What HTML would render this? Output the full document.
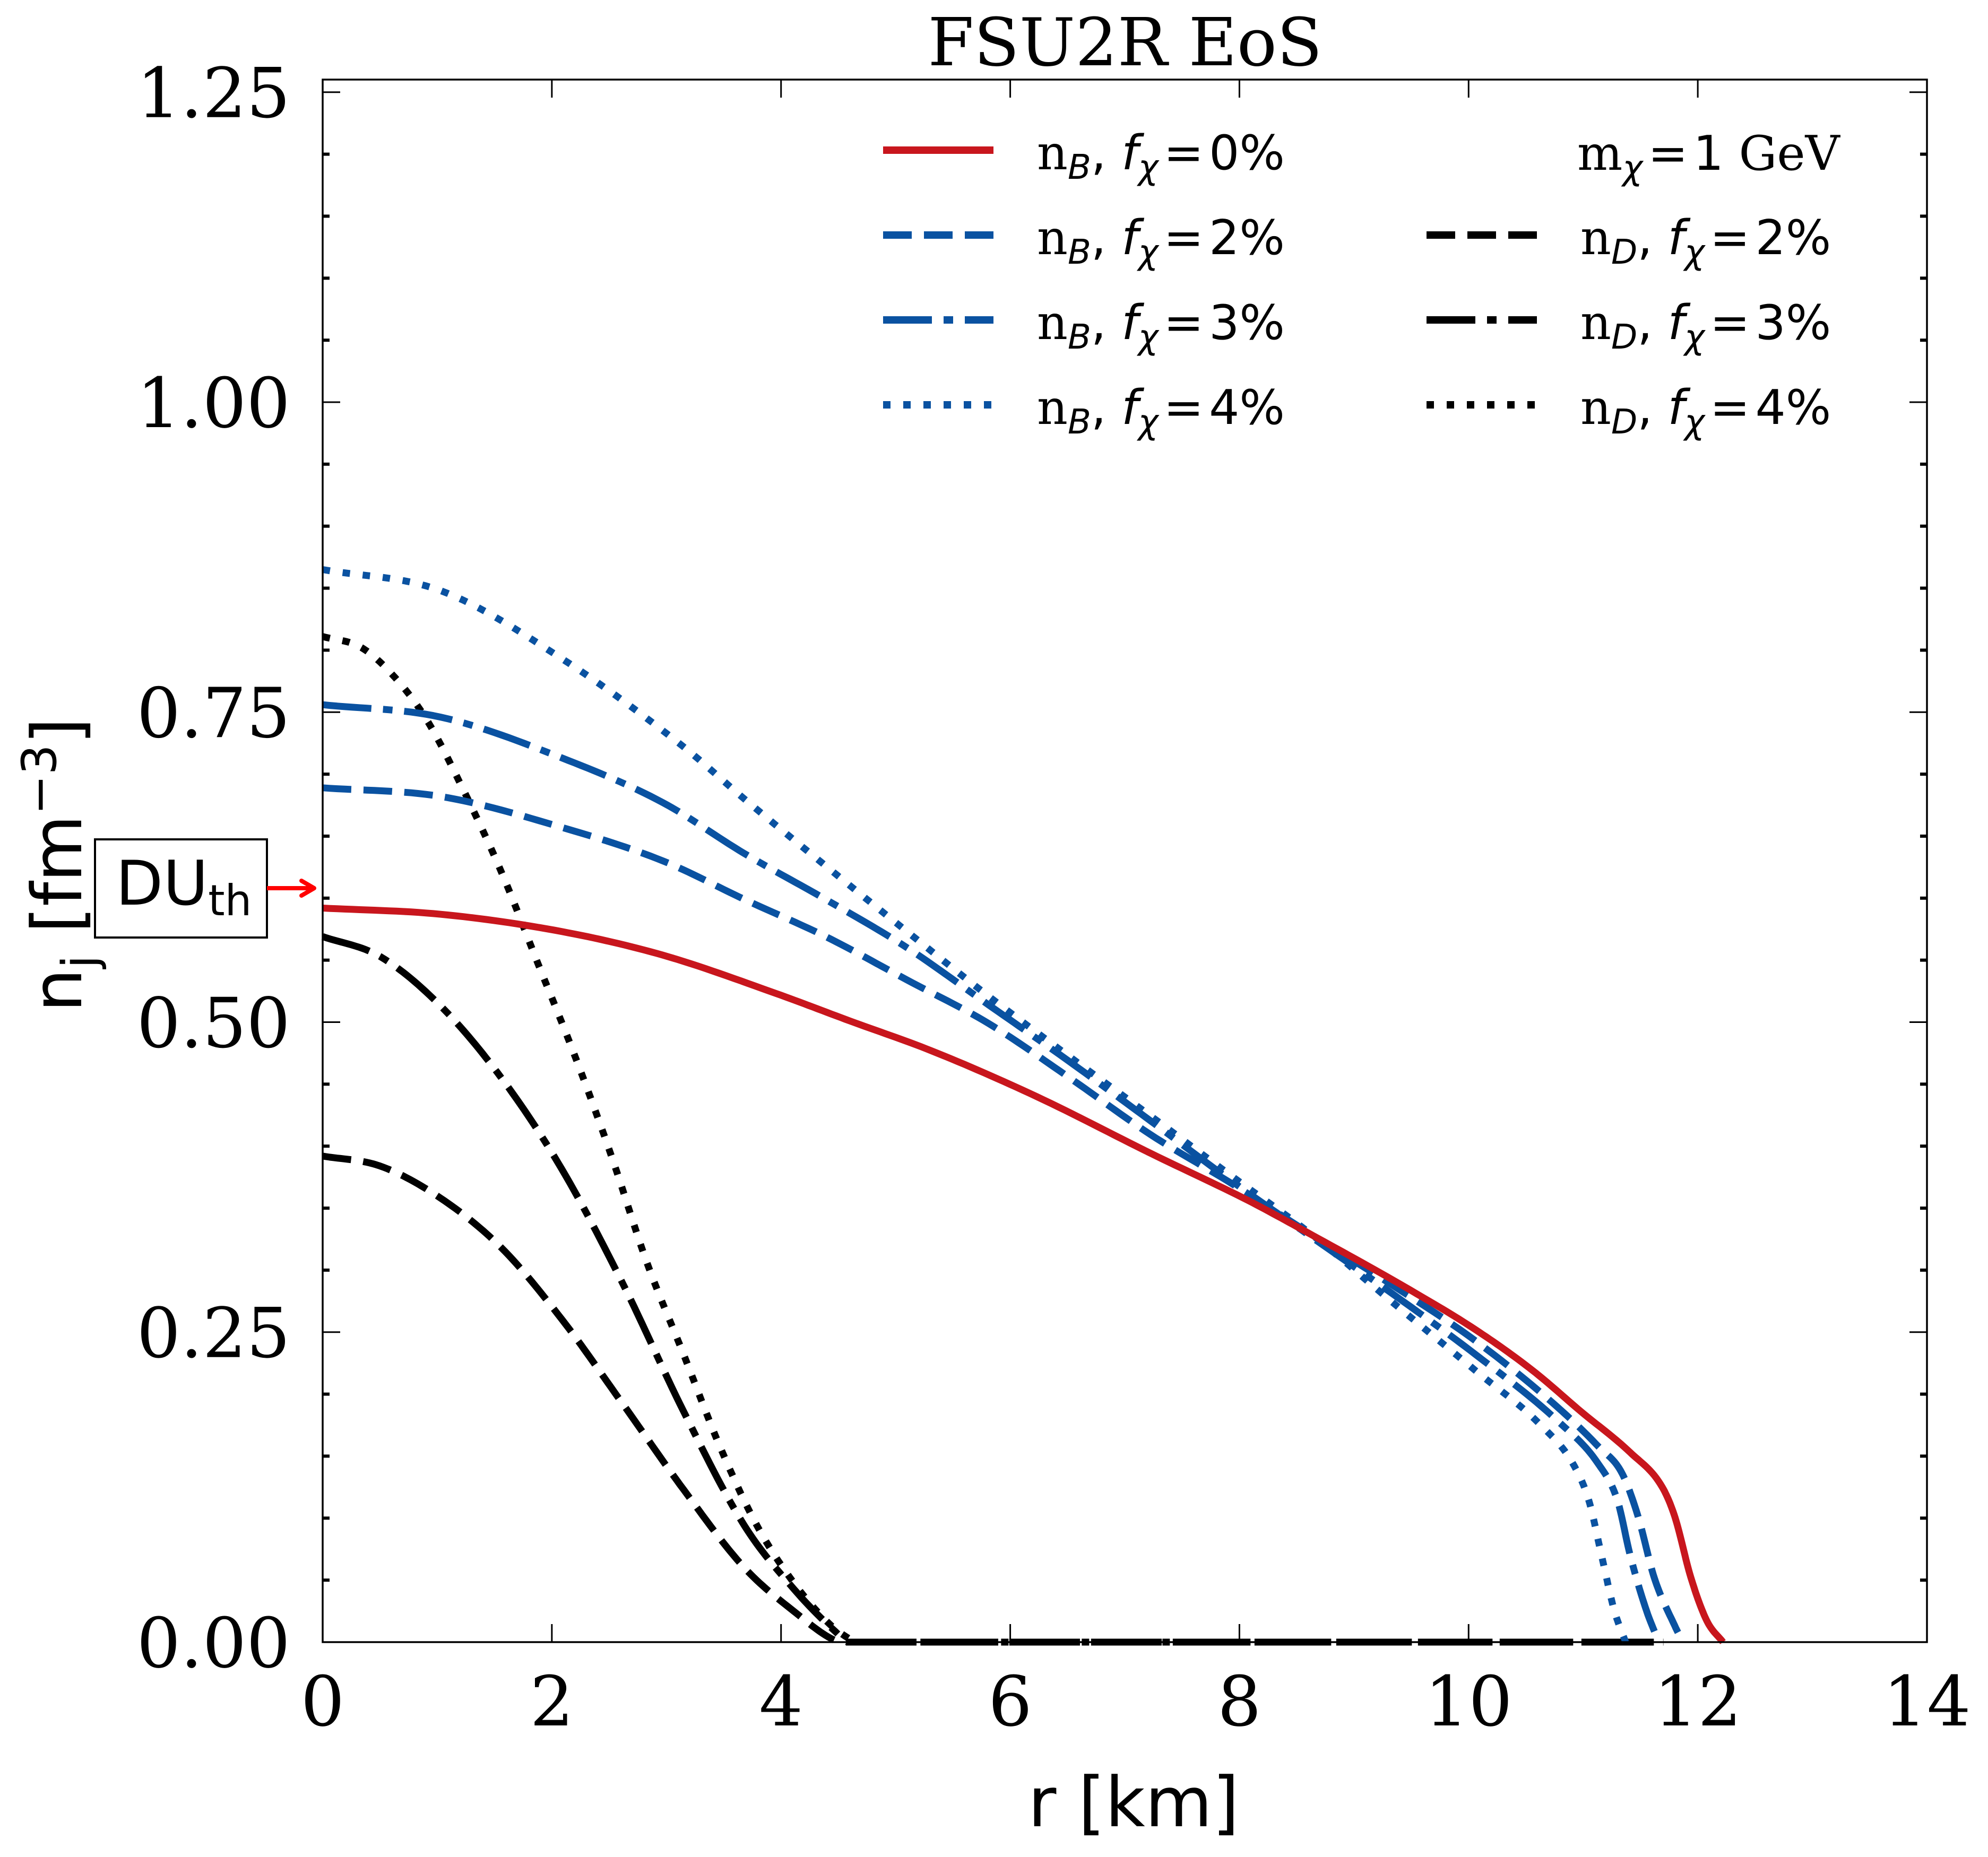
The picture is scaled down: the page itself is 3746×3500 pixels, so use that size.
<!DOCTYPE html>
<html><head><meta charset="utf-8"><style>
html,body{margin:0;padding:0;background:#fff;}
svg{display:block;}
</style></head><body>
<svg id="chart" width="3746" height="3500" viewBox="0 0 3746 3500" xmlns="http://www.w3.org/2000/svg">
<rect width="3746" height="3500" fill="#fff"/>
<text x="2120" y="123" text-anchor="middle" font-family="DejaVu Serif, Liberation Serif, serif" font-size="125">FSU2R EoS</text>
<g id="marks"></g>
<rect x="608" y="150" width="3023" height="2945" fill="none" stroke="#000" stroke-width="3.5"/>
<g id="ticks"></g>
<text x="2136" y="3442" text-anchor="middle" font-family="DejaVu Sans, Liberation Sans, sans-serif" font-size="130">r [km]</text>
<text transform="translate(153,1630) rotate(-90)" text-anchor="middle" font-family="DejaVu Sans, Liberation Sans, sans-serif" font-size="130">n<tspan font-size="90" dy="28">j</tspan><tspan dy="-28"> [fm</tspan><tspan font-size="90" dy="-48">−3</tspan><tspan dy="48">]</tspan></text>
<g>
<rect x="179" y="1582" width="324" height="185" fill="#fff" stroke="#000" stroke-width="4"/>
<text x="218" y="1705" font-family="DejaVu Sans, Liberation Sans, sans-serif" font-size="116">DU<tspan font-size="80" dy="20">th</tspan></text>
<line x1="503" y1="1674" x2="590" y2="1674" stroke="#f00" stroke-width="8"/>
<path d="M568,1660 L592,1674 L568,1688" fill="none" stroke="#f00" stroke-width="8" stroke-linecap="round" stroke-linejoin="round"/>
</g>
<g id="legend" font-family="DejaVu Sans, Liberation Sans, sans-serif" font-size="90"></g>
</svg>
<script>
const rB0 = [0,1.03,2.09,2.97,3.96,4.6,5.31,6.23,7.23,8.08,8.64,9.49,10.06,10.56,10.98,11.41,11.69,11.8,11.94,12.08,12.22];
const nB0 = [0.592,0.587,0.573,0.554,0.523,0.501,0.477,0.440,0.394,0.356,0.328,0.284,0.252,0.219,0.186,0.153,0.125,0.101,0.052,0.017,0];
const rB2 = [0,1.03,2.09,2.97,3.68,4.39,5.1,5.81,6.52,7.23,7.93,8.64,9.35,10.06,10.77,11.13,11.34,11.48,11.62,11.8,11.87];
const nB2 = [0.689,0.682,0.657,0.630,0.599,0.569,0.534,0.499,0.455,0.409,0.370,0.328,0.287,0.243,0.190,0.158,0.136,0.101,0.052,0.013,0];
const rB3 = [0,1.03,2.09,2.97,3.68,4.39,5.1,5.81,6.52,7.23,7.93,8.64,9.35,10.06,10.77,11.13,11.3,11.41,11.55,11.66];
const nB3 = [0.756,0.746,0.713,0.677,0.636,0.599,0.560,0.514,0.468,0.420,0.372,0.326,0.280,0.232,0.179,0.144,0.114,0.070,0.026,0];
const rB4 = [0,1.03,2.09,3.15,3.68,4.39,5.1,5.81,6.52,7.23,7.93,8.64,9.35,10.06,10.63,10.91,11.05,11.16,11.27,11.37];
const nB4 = [0.865,0.848,0.793,0.722,0.680,0.626,0.573,0.521,0.472,0.424,0.376,0.328,0.273,0.219,0.175,0.144,0.114,0.070,0.026,0];
const rD2 = [0,0.5,1.03,1.56,2.09,2.62,3.15,3.68,4.11,4.48,4.55,11.7];
const nD2 = [0.392,0.384,0.358,0.318,0.260,0.192,0.123,0.060,0.025,0.001,0,0];
const rD3 = [0,0.5,1.03,1.56,2.09,2.62,3.15,3.68,4.11,4.48,4.59,11.7];
const nD3 = [0.569,0.553,0.513,0.455,0.381,0.289,0.186,0.094,0.043,0.008,0,0];
const rD4 = [0,0.34,0.65,0.92,1.24,1.56,1.88,2.2,2.52,2.83,3.15,3.47,3.79,4.11,4.43,4.59,4.65,11.7];
const nD4 = [0.811,0.802,0.776,0.742,0.685,0.621,0.547,0.473,0.392,0.306,0.232,0.157,0.094,0.048,0.014,0.003,0,0];
const xTicks = [0,2,4,6,8,10,12,14];
const yTicks = [0,0.25,0.5,0.75,1.0,1.25];
const yTickLabels = ["0.00","0.25","0.50","0.75","1.00","1.25"];

const NS = "http://www.w3.org/2000/svg";
const X0=608, X1=3631, Y0=3095, YT=150, YU=2337;
const xScale = v => X0 + v*(X1-X0)/14;
const yScale = v => Y0 - v*YU;

function mk(tag, attrs, parent){
  const e=document.createElementNS(NS,tag);
  for(const k in attrs) e.setAttribute(k,attrs[k]);
  parent.appendChild(e); return e;
}
function monoPath(xs, ys){
  const n=xs.length, d=[], m=new Array(n);
  for(let i=0;i<n-1;i++) d.push((ys[i+1]-ys[i])/(xs[i+1]-xs[i]));
  m[0]=d[0]; m[n-1]=d[n-2];
  for(let i=1;i<n-1;i++) m[i]=(d[i-1]*d[i]<=0)?0:(d[i-1]+d[i])/2;
  for(let i=0;i<n-1;i++){
    if(d[i]===0){m[i]=0;m[i+1]=0;continue;}
    const a=m[i]/d[i], b=m[i+1]/d[i], s=a*a+b*b;
    if(s>9){const t=3/Math.sqrt(s); m[i]=t*a*d[i]; m[i+1]=t*b*d[i];}
  }
  let p="M"+xScale(xs[0]).toFixed(1)+","+yScale(ys[0]).toFixed(1);
  for(let i=0;i<n-1;i++){
    const h=xs[i+1]-xs[i];
    const steps = d[i]===0 ? 1 : 16;
    for(let k=1;k<=steps;k++){
      const t=k/steps, t2=t*t, t3=t2*t;
      const y=(2*t3-3*t2+1)*ys[i]+(t3-2*t2+t)*h*m[i]+(-2*t3+3*t2)*ys[i+1]+(t3-t2)*h*m[i+1];
      p+=" L"+xScale(xs[i]+t*h).toFixed(1)+","+yScale(y).toFixed(1);
    }
  }
  return p;
}
const RED="#c8161d", BLUE="#0a52a1", BLK="#000";
const DASH="54,23", DASHDOT="92,22,18,22", DOT="14,24";
const LW=13;
const marks=document.getElementById("marks");
const series=[
  ["nd-4pct-line",rD4,nD4,BLK,DOT],
  ["nd-3pct-line",rD3,nD3,BLK,DASHDOT],
  ["nd-2pct-line",rD2,nD2,BLK,DASH],
  ["nb-4pct-line",rB4,nB4,BLUE,DOT],
  ["nb-3pct-line",rB3,nB3,BLUE,DASHDOT],
  ["nb-2pct-line",rB2,nB2,BLUE,DASH],
  ["nb-0pct-line",rB0,nB0,RED,null]
];
series.forEach(s=>{
  const el=mk("path",{d:monoPath(s[1],s[2]),fill:"none",stroke:s[3],"stroke-width":LW,"stroke-linejoin":"round"},marks);
  if(s[4]) el.setAttribute("stroke-dasharray",s[4]);
  
  
});

const tk=document.getElementById("ticks");
xTicks.forEach(v=>{
  const x=xScale(v);
  mk("line",{x1:x,y1:Y0,x2:x,y2:Y0-34,stroke:"#000","stroke-width":3},tk);
  mk("line",{x1:x,y1:YT,x2:x,y2:YT+34,stroke:"#000","stroke-width":3},tk);
  const t=mk("text",{x:x,y:3252,"text-anchor":"middle","font-family":"DejaVu Serif, Liberation Serif, serif","font-size":"130"},tk);
  t.textContent=String(v);
  
  
});
for(let i=0;i<=25;i++){
  const v=i*0.05, y=yScale(v), major=(i%5===0), L=major?33:13;
  mk("line",{x1:X0,y1:y,x2:X0+L,y2:y,stroke:"#000","stroke-width":major?3:6},tk);
  mk("line",{x1:X1,y1:y,x2:X1-L,y2:y,stroke:"#000","stroke-width":major?3:6},tk);
}
yTicks.forEach((v,i)=>{
  const t=mk("text",{x:547,y:yScale(v)+47,"text-anchor":"end","font-family":"DejaVu Serif, Liberation Serif, serif","font-size":"130"},tk);
  t.textContent=yTickLabels[i];
  
  
});

const lg=document.getElementById("legend");
const entries=[
  [1664,283,RED,null,"B","0%"],
  [1664,443,BLUE,DASH,"B","2%"],
  [1664,603,BLUE,DASHDOT,"B","3%"],
  [1664,763,BLUE,DOT,"B","4%"],
  [2688,443,BLK,DASH,"D","2%"],
  [2688,603,BLK,DASHDOT,"D","3%"],
  [2688,763,BLK,DOT,"D","4%"]
];
entries.forEach(e=>{
  const ln=mk("line",{x1:e[0],y1:e[1],x2:e[0]+208,y2:e[1],stroke:e[2],"stroke-width":14},lg);
  if(e[3]) ln.setAttribute("stroke-dasharray",e[3]);
  
  
  const t=mk("text",{x:e[0]+290,y:e[1]+36},lg);
  t.innerHTML='<tspan font-family="DejaVu Serif, serif">n</tspan><tspan font-size="64" dy="18" font-style="italic">'+e[4]+'</tspan><tspan dy="-18">, </tspan><tspan font-style="italic">f</tspan><tspan font-size="64" dy="18" font-style="italic">χ</tspan><tspan dy="-18" dx="10">=</tspan><tspan dx="10">'+e[5]+'</tspan>';
  
  
});
const m=mk("text",{x:2972,y:320},lg);
m.innerHTML='<tspan font-family="DejaVu Serif, serif">m</tspan><tspan font-size="64" dy="18" font-style="italic">χ</tspan><tspan dy="-18" dx="10">=</tspan><tspan dx="10">1 </tspan><tspan font-family="DejaVu Serif, serif">GeV</tspan>';


</script>
</body></html>
